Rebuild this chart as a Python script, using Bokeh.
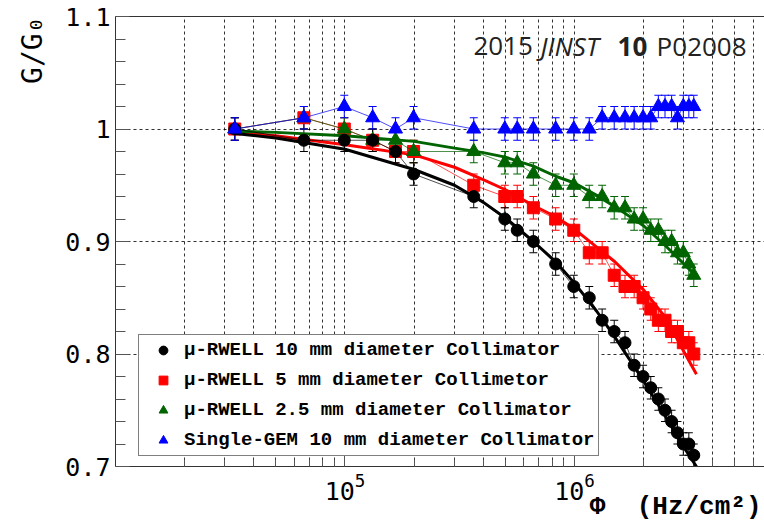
import math
import numpy as np
from bokeh.plotting import figure
from bokeh.models import (FixedTicker, Legend, LegendItem, Label, Whisker, TeeHead,
                          ColumnDataSource, LogAxis, CustomJSTickFormatter, Title)
from bokeh.embed import file_html
from bokeh.resources import INLINE

# ---- data ----
phi = [3.31e4, 6.62e4, 9.93e4, 1.32e5, 1.66e5, 1.99e5, 3.64e5, 4.97e5, 5.63e5,
       6.62e5, 8.28e5, 9.93e5, 1.16e6, 1.32e6, 1.49e6, 1.66e6, 1.82e6, 1.99e6,
       2.15e6, 2.32e6, 2.48e6, 2.65e6, 2.81e6, 2.98e6, 3.15e6, 3.31e6]

g_rwell10 = [1.00, 0.99, 0.99, 0.99, 0.98, 0.96, 0.94, 0.92, 0.91, 0.90, 0.88, 0.86,
             0.85, 0.83, 0.82, 0.81, 0.79, 0.78, 0.77, 0.76, 0.75, 0.74, 0.73, 0.72,
             0.72, 0.71]
g_rwell5 = [1.00, 1.01, 1.00, 0.99, 0.98, 0.98, 0.95, 0.94, 0.94, 0.93, 0.92, 0.91,
            0.89, 0.89, 0.87, 0.86, 0.86, 0.85, 0.84, 0.83, 0.83, 0.82, 0.82, 0.81,
            0.81, 0.80]
g_rwell25 = [1.00, 1.01, 1.00, 0.99, 0.99, 0.98, 0.98, 0.97, 0.97, 0.96, 0.95, 0.95,
             0.94, 0.94, 0.93, 0.93, 0.92, 0.92, 0.91, 0.91, 0.90, 0.90, 0.89, 0.89,
             0.88, 0.87]
g_gem10 = [1.00, 1.01, 1.02, 1.01, 1.00, 1.01, 1.00, 1.00, 1.00, 1.00, 1.00, 1.00,
           1.00, 1.01, 1.01, 1.01, 1.01, 1.01, 1.01, 1.02, 1.02, 1.02, 1.01, 1.02,
           1.02, 1.02]
err = [0.01, 0.01, 0.01, 0.01, 0.01, 0.01, 0.01, 0.01, 0.01, 0.01, 0.01, 0.01, 0.01,
       0.01, 0.01, 0.01, 0.01, 0.01, 0.01, 0.01, 0.01, 0.01, 0.01, 0.01, 0.01, 0.01]

# fitted curves
fit_phi = [3.31e4, 5e4, 1e5, 2e5, 3e5, 4e5, 5e5, 6.62e5, 8.28e5, 1e6, 1.25e6,
           1.5e6, 2e6, 2.5e6, 3e6, 3.4e6]
fit_rwell10 = [0.996, 0.992, 0.982, 0.964, 0.950, 0.935, 0.921, 0.900, 0.882, 0.863,
               0.838, 0.815, 0.776, 0.744, 0.717, 0.700]
fit_rwell5 = [0.997, 0.994, 0.986, 0.977, 0.966, 0.955, 0.946, 0.932, 0.922, 0.911,
              0.895, 0.882, 0.857, 0.832, 0.802, 0.782]
fit_rwell25 = [0.998, 0.997, 0.994, 0.989, 0.983, 0.979, 0.975, 0.967, 0.958, 0.952,
               0.941, 0.931, 0.914, 0.896, 0.880, 0.869]

labels = ["\u03bc-RWELL 10 mm diameter Collimator",
          "\u03bc-RWELL 5 mm diameter Collimetor",
          "\u03bc-RWELL 2.5 mm diameter Collimator",
          "Single-GEM 10 mm diameter Collimator"]

x_major = [1e5, 1e6]
x_minor = [2e4, 3e4, 4e4, 5e4, 6e4, 7e4, 8e4, 9e4,
           2e5, 3e5, 4e5, 5e5, 6e5, 7e5, 8e5, 9e5,
           2e6, 3e6, 4e6, 5e6, 6e6]
y_major = [0.7, 0.8, 0.9, 1.0, 1.1]
y_minor = [0.72, 0.74, 0.76, 0.78, 0.82, 0.84, 0.86, 0.88, 0.92, 0.94, 0.96, 0.98,
           1.02, 1.04, 1.06, 1.08]

RED = "#ff0000"
GREEN = "#006400"
BLUE = "#0000ff"
BLACK = "#000000"

p = figure(width=764, height=521, x_axis_type="log", x_range=(1e4, 6.73e6),
           y_range=(0.7, 1.1), output_backend="svg", toolbar_location=None,
           min_border_left=115, min_border_right=0, min_border_top=16,
           min_border_bottom=55)
p.outline_line_color = None
p.background_fill_color = "white"
p.border_fill_color = "white"

# axes
p.xaxis.ticker = FixedTicker(ticks=x_major, minor_ticks=x_minor)
p.yaxis.ticker = FixedTicker(ticks=y_major, minor_ticks=y_minor)
p.yaxis.formatter = CustomJSTickFormatter(code="return String(Math.round(tick*10)/10)")
for ax in (p.xaxis[0], p.yaxis[0]):
    ax.major_tick_out = 0
    ax.minor_tick_out = 0
    ax.axis_line_color = "#333333"
    ax.major_tick_line_color = "#555555"
    ax.minor_tick_line_color = "#555555"
    ax.major_label_text_font = "DejaVu Sans Mono"
    ax.major_label_text_font_size = "25px"
    ax.major_label_text_color = "black"
p.xaxis.major_tick_in = 12
p.xaxis.minor_tick_in = 7
p.xaxis.major_label_standoff = 6
p.yaxis.major_tick_in = 14
p.yaxis.minor_tick_in = 10
p.yaxis.major_label_standoff = 5

top = LogAxis(ticker=FixedTicker(ticks=[]), axis_line_color="#333333",
              major_tick_line_color=None, minor_tick_line_color=None,
              major_label_text_font_size="0px")
p.add_layout(top, "above")

# grids
p.xgrid.grid_line_color = "black"
p.xgrid.grid_line_dash = "3 3"
p.xgrid.grid_line_alpha = 0.8
p.xgrid.minor_grid_line_color = "black"
p.xgrid.minor_grid_line_dash = "3 3"
p.xgrid.minor_grid_line_alpha = 0.8
p.ygrid.grid_line_color = "black"
p.ygrid.grid_line_dash = "3 3"
p.ygrid.grid_line_alpha = 0.8

series = [
    (g_rwell5, RED, "square", 12, fit_rwell5, labels[1]),
    (g_rwell25, GREEN, "triangle", 14, fit_rwell25, labels[2]),
    (g_rwell10, BLACK, "circle", 12, fit_rwell10, labels[0]),
    (g_gem10, BLUE, "triangle", 14, None, labels[3]),
]
renderers = {}
for ys, col, mk, sz, fit, lab in series:
    yv = np.array(ys)
    ev = np.array(err)
    src = ColumnDataSource(dict(x=phi, y=ys, lo=list(yv - ev), hi=list(yv + ev)))
    p.line("x", "y", source=src, color=col, line_width=1, line_alpha=0.7)
    w = Whisker(base="x", upper="hi", lower="lo", source=src, line_color=col,
                line_width=1,
                upper_head=TeeHead(size=8, line_color=col, line_width=1),
                lower_head=TeeHead(size=8, line_color=col, line_width=1))
    p.add_layout(w)
    if fit is not None:
        p.line(fit_phi, fit, color=col, line_width=3)
    r = p.scatter("x", "y", source=src, marker=mk, size=sz, fill_color=col,
                  line_color=col)
    renderers[lab] = r

legend = Legend(items=[LegendItem(label=l, renderers=[renderers[l]]) for l in labels],
                location=(23, 10))
legend.label_text_font = "Liberation Mono"
legend.label_text_font_style = "bold"
legend.label_text_font_size = "19px"
legend.label_text_color = "black"
legend.border_line_color = "black"
legend.border_line_width = 1
legend.background_fill_color = "white"
legend.background_fill_alpha = 1.0
legend.padding = 4
legend.spacing = 8
legend.margin = 0
legend.glyph_width = 40
legend.glyph_height = 22
legend.label_height = 22
legend.label_standoff = 1
p.add_layout(legend)

# journal reference text
ty = 1.0737
for tx, tt, st in [(3.63e5, "2015", "normal"), (7.11e5, "JINST", "italic"),
                   (1.54e6, "10", "bold"), (2.28e6, "P02008", "normal")]:
    p.add_layout(Label(x=tx, y=ty, text=tt, text_font="Open Sans",
                       text_font_style=st, text_font_size="26px",
                       text_color="#222222", text_baseline="alphabetic"))

# axis titles as side-panel titles
ytitle = Title(text="G/G\u2080", align="right", offset=0, standoff=24,
               vertical_align="top",
               text_font="DejaVu Sans Mono", text_font_size="28px",
               text_font_style="normal", text_color="black")
p.add_layout(ytitle, "left")

xtitle = Title(text="\u03a6\u00a0\u00a0(Hz/cm\u00b2)", align="right", offset=3,
               standoff=-22, vertical_align="top",
               text_font="Liberation Mono", text_font_size="26px",
               text_font_style="bold", text_color="black")
p.add_layout(xtitle, "below")

open("out.html", "w").write(file_html(p, INLINE))
